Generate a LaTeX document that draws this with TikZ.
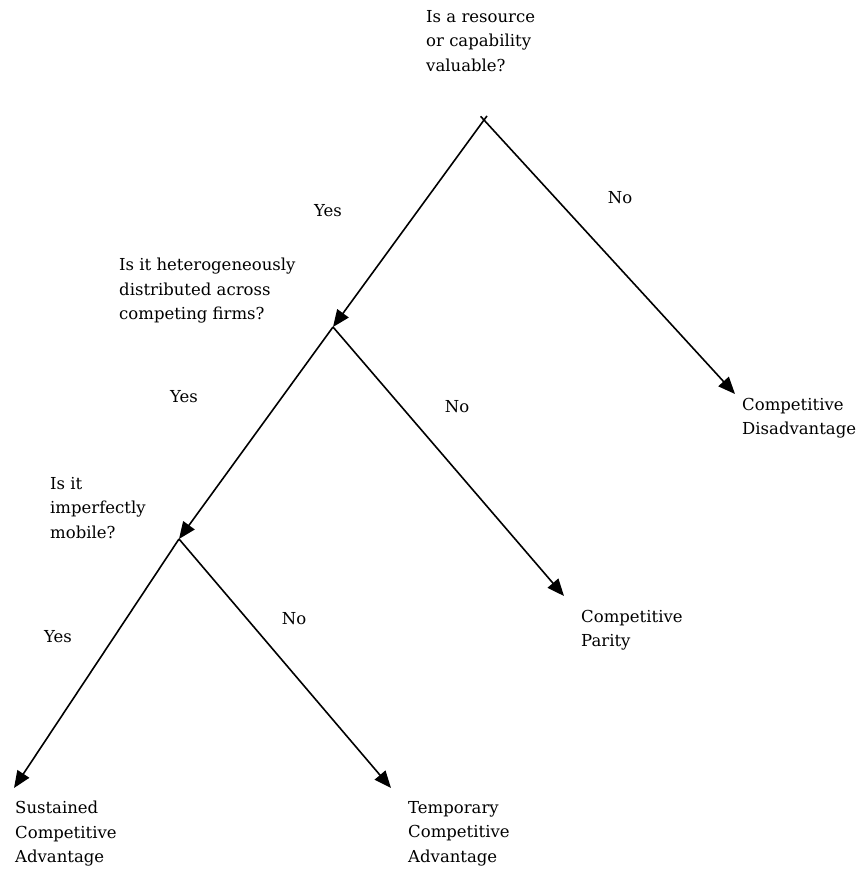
\documentclass[tikz,border=0pt]{standalone}
\usepackage{fontspec}
\setmainfont{DejaVu Serif}
\usetikzlibrary{arrows.meta, positioning}
\tikzset{
    branch/.style={line width=1.6pt, -{Triangle[length=17pt,width=14pt]}},
    qtext/.style={anchor=north west, align=left, inner sep=0pt, font=\fontsize{16.5}{24.5}\selectfont},
    ans/.style={inner sep=0pt, font=\fontsize{16.5}{24.5}\selectfont}
}
\begin{document}
\begin{tikzpicture}[x=1pt, y=-1pt]
        \useasboundingbox (0,0) rectangle (859,872);
        \coordinate (root) at (484,120);
        \coordinate (het) at (333,327);
        \coordinate (mob) at (179,539);
        \coordinate (dis) at (735,394);
        \coordinate (par) at (564,596);
        \coordinate (sus) at (14,788);
        \coordinate (tem) at (391,788);
        \node[qtext] (valq) at (426,10) {Is a resource\\or capability\\valuable?};
        \node[qtext] (hetq) at (119,258) {Is it heterogeneously\\distributed across\\competing firms?};
        \node[qtext] (mobq) at (50,477) {Is it\\imperfectly\\mobile?};
        \node[qtext] (disn) at (742,398) {Competitive\\Disadvantage};
        \node[qtext] (parn) at (581,610) {Competitive\\Parity};
        \node[qtext] (susn) at (15,801) {Sustained\\Competitive\\Advantage};
        \node[qtext] (temn) at (408,801) {Temporary\\Competitive\\Advantage};
        \draw[branch, shorten <=-5pt] (root) -- (het);
        \draw[branch, shorten <=-5pt] (root) -- (dis);
        \draw[branch] (het) -- (mob);
        \draw[branch] (het) -- (par);
        \draw[branch] (mob) -- (sus);
        \draw[branch] (mob) -- (tem);
        \node[ans] (y1) at (328,211) {Yes};
        \node[ans] (n1) at (620,198) {No};
        \node[ans] (y2) at (184,397) {Yes};
        \node[ans] (n2) at (457,407) {No};
        \node[ans] (y3) at (58,637) {Yes};
        \node[ans] (n3) at (294,619) {No};
    \end{tikzpicture}
\end{document}
